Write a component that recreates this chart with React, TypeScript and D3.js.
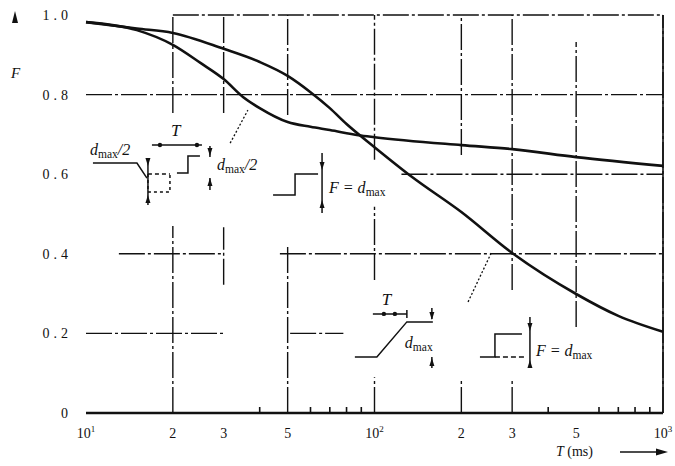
import React, { useEffect, useRef } from 'react';
import * as d3 from 'd3';

// curve for a single step of d_max
const steepT = [10, 15, 20, 30, 40, 50, 60, 70, 80, 100, 135, 200, 300, 500, 700, 1000];
const steepF = [0.982, 0.966, 0.955, 0.915, 0.882, 0.847, 0.806, 0.766, 0.726, 0.668, 0.593, 0.505, 0.402, 0.299, 0.244, 0.204];

// curve for two steps of d_max/2, T apart
const plateauT = [10, 15, 20, 25, 30, 35, 40, 50, 60, 70, 88, 100, 200, 300, 500, 1000];
const plateauF = [0.982, 0.962, 0.925, 0.879, 0.839, 0.794, 0.766, 0.731, 0.719, 0.711, 0.698, 0.693, 0.673, 0.663, 0.643, 0.621];

const xMajor = [10, 20, 30, 50, 100, 200, 300, 500, 1000];
const xLabelBase = ['10', '2', '3', '5', '10', '2', '3', '5', '10'];
const xLabelExp = ['1', '', '', '', '2', '', '', '', '3'];
const xMinor = [40, 60, 70, 80, 90, 400, 600, 700, 800, 900];

const yTicks = [0, 0.2, 0.4, 0.6, 0.8, 1.0];
const yLabels = ['0', '0.2', '0.4', '0.6', '0.8', '1.0'];

// grid line extents (the scan leaves white room round the sketches)
const vGridT = [20, 30, 50, 100, 200, 300, 500, 1000];
const vGridSpans = [
  [[0.754, 1], [0, 0.47]],
  [[0.754, 1], [0.322, 0.467]],
  [[0.749, 1], [0, 0.422]],
  [[0.636, 1], [0.334, 0.518], [0, 0.09]],
  [[0.648, 1], [0, 0.088]],
  [[0.309, 1], [0, 0.083]],
  [[0.216, 0.932]],
  [[0, 1]],
];
const hGridF = [1.0, 0.8, 0.6, 0.4, 0.2];
const hGridSpans = [
  [[20, 1000]],
  [[10, 1000]],
  [[124, 1000]],
  [[13, 30], [47, 1000]],
  [[10, 30], [51, 78]],
];

function App() {
  const canvas = useRef<SVGSVGElement>(null);

  useEffect(() => {
    const width = 675;
    const height = 466;
    const margin = { top: 15, left: 86, bottom: 53, right: 12 };
    const font = '"Liberation Serif", "DejaVu Serif", serif';
    const ink = '#111';

    const svg = d3.select(canvas.current).attr('width', width).attr('height', height);
    svg.selectAll('*').remove();

    const x = d3.scaleLog().domain([10, 1000]).range([margin.left, width - margin.right]);
    const y = d3.scaleLinear().domain([0, 1]).range([height - margin.bottom, margin.top]);

    // grid
    const grid = svg.append('g').attr('stroke', ink).attr('stroke-width', 1.4).attr('stroke-dasharray', '26 3 3 3');
    vGridT.forEach((t, i) => {
      vGridSpans[i].forEach(s => {
        grid.append('line').attr('x1', x(t)).attr('x2', x(t)).attr('y1', y(s[0])).attr('y2', y(s[1]));
      });
    });
    hGridF.forEach((f, i) => {
      hGridSpans[i].forEach(s => {
        grid.append('line').attr('x1', x(s[0])).attr('x2', x(s[1])).attr('y1', y(f)).attr('y2', y(f));
      });
    });

    // x axis
    svg.append('line').attr('x1', x(10)).attr('x2', x(1000)).attr('y1', y(0)).attr('y2', y(0))
      .attr('stroke', ink).attr('stroke-width', 2.4);
    svg.append('line').attr('x1', x(1000)).attr('x2', x(1000)).attr('y1', y(0)).attr('y2', y(1))
      .attr('stroke', ink).attr('stroke-width', 1.6);
    svg.selectAll('.minor').data(xMinor).enter().append('line')
      .attr('x1', d => x(d)).attr('x2', d => x(d)).attr('y1', y(0)).attr('y2', y(0) - 6)
      .attr('stroke', ink).attr('stroke-width', 1.6);

    const xl = svg.selectAll('.xlab').data(xMajor).enter().append('text')
      .attr('x', d => x(d)).attr('y', y(0) + 25)
      .attr('text-anchor', 'middle').attr('font-family', font).attr('font-size', 14).attr('fill', ink);
    xl.append('tspan').text((d, i) => xLabelBase[i]);
    xl.append('tspan').text((d, i) => xLabelExp[i]).attr('font-size', 9).attr('dy', -6);

    // y labels
    svg.selectAll('.ylab').data(yTicks).enter().append('text')
      .attr('x', 72).attr('y', d => y(d) + 5)
      .attr('text-anchor', 'end').attr('font-family', font).attr('font-size', 14)
      .attr('letter-spacing', 4).attr('fill', ink)
      .text((d, i) => yLabels[i]);

    svg.append('text').attr('x', 11).attr('y', 78).attr('font-family', font).attr('font-style', 'italic')
      .attr('font-size', 15).attr('fill', ink).text('F');
    svg.append('path').attr('d', 'M15,11 L18,23 L12,23 Z').attr('fill', ink);

    // x title with arrow
    const xt = svg.append('text').attr('x', 556).attr('y', 456).attr('font-family', font)
      .attr('font-size', 14).attr('fill', ink);
    xt.append('tspan').attr('font-style', 'italic').text('T');
    xt.append('tspan').text(' (ms)');
    svg.append('line').attr('x1', 620).attr('x2', 660).attr('y1', 452).attr('y2', 452)
      .attr('stroke', ink).attr('stroke-width', 1.6);
    svg.append('path').attr('d', 'M668,452 L656,448.5 L656,455.5 Z').attr('fill', ink);

    // curves
    const line = d3.line<[number, number]>().x(d => x(d[0])).y(d => y(d[1])).curve(d3.curveMonotoneX);
    const steep = steepT.map((t, i) => [t, steepF[i]] as [number, number]);
    const plateau = plateauT.map((t, i) => [t, plateauF[i]] as [number, number]);
    [steep, plateau].forEach(pts => {
      svg.append('path').attr('d', line(pts)).attr('fill', 'none').attr('stroke', ink).attr('stroke-width', 2.6);
    });

    // dotted leaders from sketches to curves
    const leaders = [[[31.6, 0.678], [36.4, 0.761]], [[211, 0.279], [255, 0.405]]];
    leaders.forEach(l => {
      svg.append('line').attr('x1', x(l[0][0])).attr('y1', y(l[0][1])).attr('x2', x(l[1][0])).attr('y2', y(l[1][1]))
        .attr('stroke', ink).attr('stroke-width', 1.3).attr('stroke-dasharray', '2 2');
    });

    // helpers for the small sketches
    const sketch = (t: number, f: number) => svg.append('g')
      .attr('transform', `translate(${x(t)},${y(f)})`)
      .attr('stroke', ink).attr('fill', 'none').attr('stroke-width', 1.5);
    const poly = (g: any, pts: number[][], dash?: string) =>
      g.append('path').attr('d', d3.line()(pts as [number, number][])).attr('stroke-dasharray', dash || null);
    const arrowV = (g: any, cx: number, tip: number, dir: number) =>
      g.append('path').attr('d', `M${cx},${tip} L${cx - 2.5},${tip - dir * 8} L${cx + 2.5},${tip - dir * 8} Z`)
        .attr('fill', ink).attr('stroke', 'none');
    const dot = (g: any, cx: number, cy: number) =>
      g.append('circle').attr('cx', cx).attr('cy', cy).attr('r', 2.2).attr('fill', ink).attr('stroke', 'none');
    const label = (g: any, lx: number, ly: number, pre: string, sub: string, post: string, size = 16) => {
      const tx = g.append('text').attr('x', lx).attr('y', ly).attr('font-family', font).attr('font-size', size)
        .attr('font-style', 'italic').attr('fill', ink).attr('stroke', 'none');
      tx.append('tspan').text(pre);
      if (sub) tx.append('tspan').text(sub).attr('font-size', size * 0.72).attr('dy', 3).attr('font-style', 'normal');
      if (post) tx.append('tspan').text(post).attr('dy', sub ? -3 : 0);
      return tx;
    };

    // sketch A: two half steps
    const a = sketch(10.57, 0.628);
    label(a, -3, -8, 'd', 'max', '/2');
    poly(a, [[0, 0], [44, 0], [54, 15]]);
    poly(a, [[55, 11], [77, 11]], '4 3');
    poly(a, [[84, 10], [95, 10], [95, -7], [107, -7]]);
    poly(a, [[55, 11], [55, 29], [77, 29], [77, 11]], '3 3');
    poly(a, [[55, -4], [55, 42]]);
    arrowV(a, 55, 3, 1);
    arrowV(a, 55, 32, -1);
    poly(a, [[59, -18], [109, -18]]);
    dot(a, 67, -18);
    dot(a, 104, -18);
    label(a, 78, -27, 'T', '', '', 17);
    poly(a, [[117, -17], [117, -6]]);
    poly(a, [[117, 15], [117, 27]]);
    arrowV(a, 117, -7, 1);
    arrowV(a, 117, 15, -1);
    label(a, 124, 7, 'd', 'max', '/2');

    // sketch B: full step
    const b = sketch(44.5, 0.548);
    poly(b, [[0, 0], [22, 0], [22, -21], [45, -21]]);
    poly(b, [[49, -42], [49, 18]]);
    arrowV(b, 49, -25, 1);
    arrowV(b, 49, 5, -1);
    label(b, 56, -2, 'F = d', 'max', '');

    // sketch C: ramp over T
    const c = sketch(85.5, 0.141);
    poly(c, [[0, 0], [22, 0], [52, -35], [78, -35]]);
    poly(c, [[18, -43], [52, -43]]);
    dot(c, 29, -43);
    dot(c, 40, -43);
    poly(c, [[52, -47], [52, -39]]);
    label(c, 27, -52, 'T', '', '', 17);
    poly(c, [[77, -49], [77, -38]]);
    poly(c, [[77, 0], [77, 11]]);
    arrowV(c, 77, -37, 1);
    arrowV(c, 77, 1, -1);
    label(c, 50, -9, 'd', 'max', '');

    // sketch D: full step, second case
    const dd = sketch(232, 0.141);
    poly(dd, [[0, 0], [15, 0], [15, -23], [42, -23]]);
    poly(dd, [[15, 0], [45, 0]], '5 3');
    poly(dd, [[50, -40], [50, 11]]);
    arrowV(dd, 50, -26, 1);
    arrowV(dd, 50, 3, -1);
    label(dd, 56, -1, 'F = d', 'max', '');
  });

  return (
    <div style={{ position: 'absolute', left: 0, top: 0 }}>
      <svg ref={canvas} style={{ display: 'block', background: '#fff' }}></svg>
    </div>
  );
}

export default App;
